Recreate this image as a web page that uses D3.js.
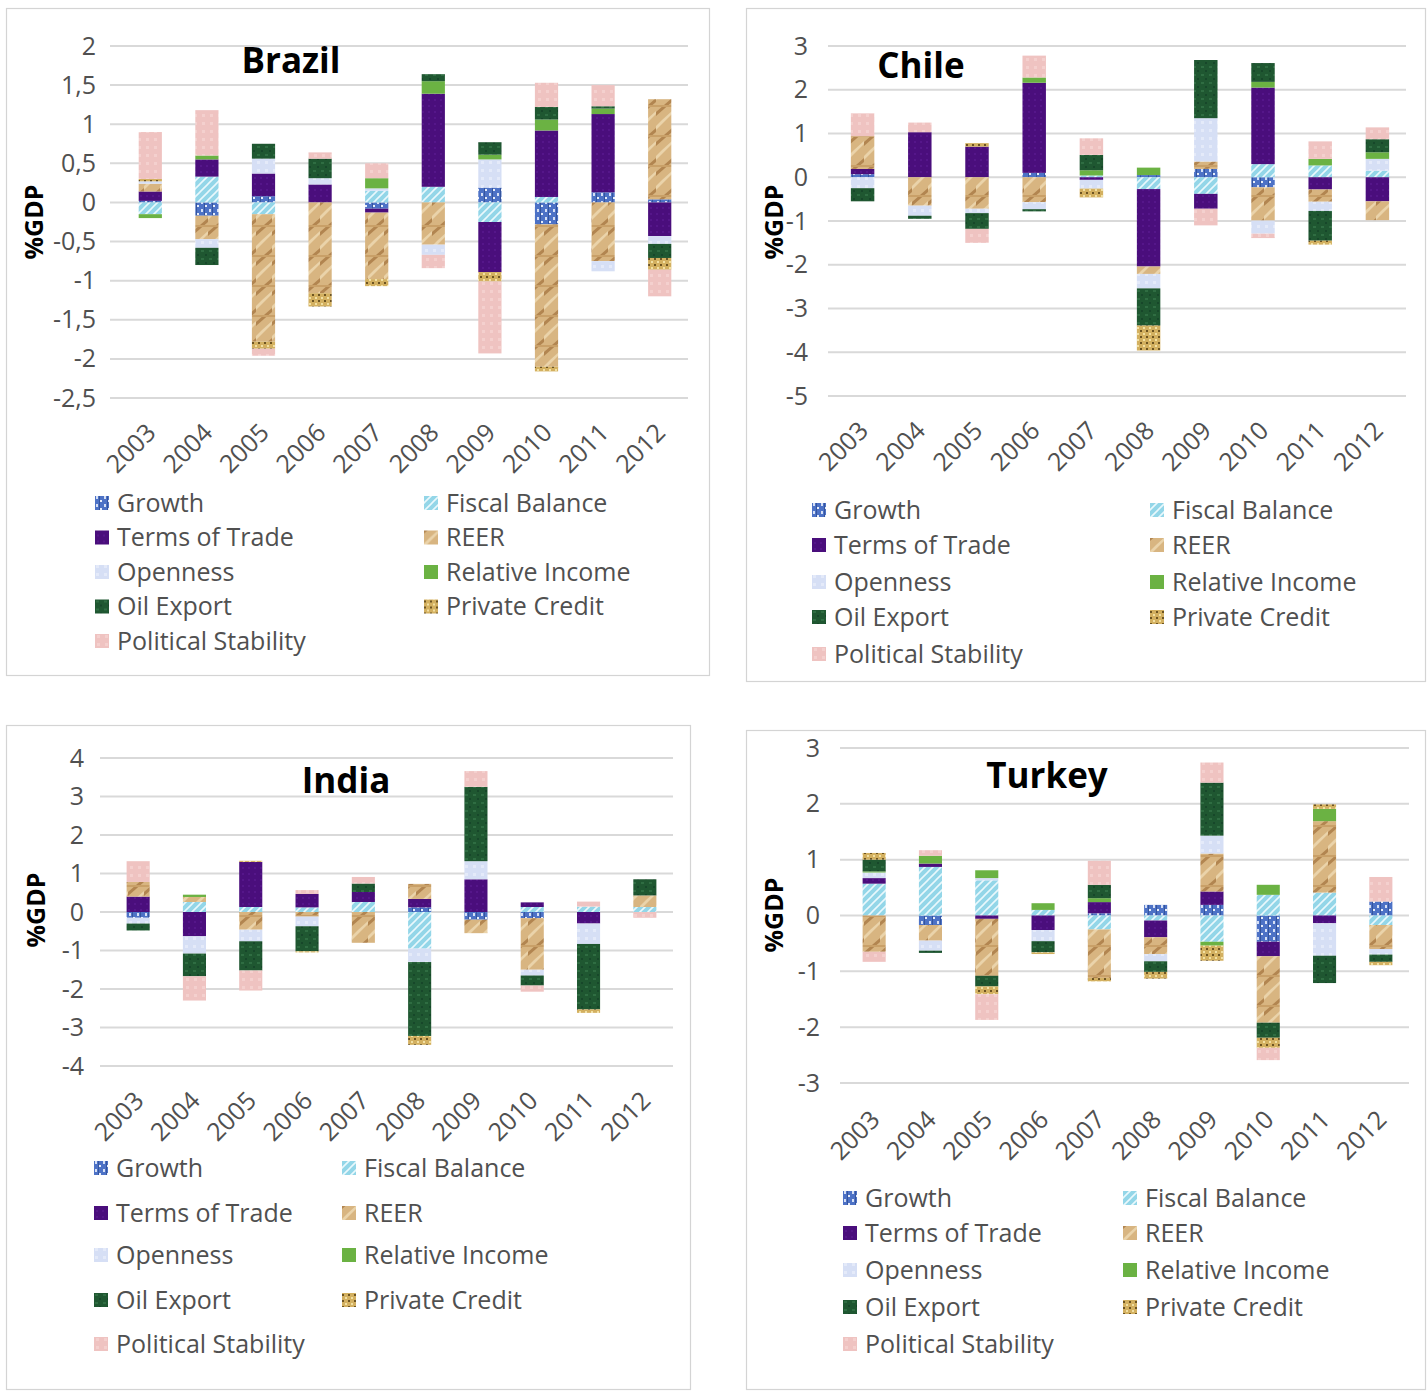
<!DOCTYPE html>
<html>
<head>
<meta charset="utf-8">
<script src="https://cdn.jsdelivr.net/npm/d3@7/dist/d3.min.js"></script>
<style>
  html, body { margin: 0; padding: 0; background: #ffffff; }
  svg { display: block; }
  text { font-family: "Open Sans", "Liberation Sans", sans-serif; }
</style>
</head>
<body>
<svg id="chart" width="1428" height="1394"></svg>
<script>
// ---------------- DATA ----------------
const years = ["2003","2004","2005","2006","2007","2008","2009","2010","2011","2012"];
const seriesNames = ["Growth","Fiscal Balance","Terms of Trade","REER","Openness",
                     "Relative Income","Oil Export","Private Credit","Political Stability"];

// each row = one series (order as seriesNames), each column = one year 2003..2012
const brazilValues = [
  [ 0.02,-0.17, 0.08, 0.00,-0.08, 0.00, 0.19,-0.28, 0.13, 0.04], // Growth
  [-0.15, 0.33,-0.15, 0.00, 0.15, 0.20,-0.25, 0.07, 0.00, 0.00], // Fiscal Balance
  [ 0.12, 0.22, 0.29, 0.23,-0.05, 1.19,-0.64, 0.85, 1.00,-0.43], // Terms of Trade
  [ 0.10,-0.30,-1.63,-1.16,-0.85,-0.54, 0.00,-1.82,-0.75, 1.28], // REER
  [ 0.03,-0.11, 0.19, 0.08, 0.03,-0.13, 0.36, 0.00,-0.13,-0.10], // Openness
  [-0.05, 0.05, 0.00, 0.00, 0.13, 0.16, 0.06, 0.14, 0.07, 0.00], // Relative Income
  [ 0.00,-0.22, 0.19, 0.25, 0.00, 0.09, 0.16, 0.16, 0.03,-0.18], // Oil Export
  [ 0.03, 0.00,-0.09,-0.17,-0.09, 0.00,-0.12,-0.06, 0.00,-0.15], // Private Credit
  [ 0.60, 0.58,-0.09, 0.08, 0.19,-0.17,-0.92, 0.31, 0.27,-0.34]  // Political Stability
];
const chileValues = [
  [ 0.07, 0.00, 0.00, 0.10, 0.00, 0.05, 0.19,-0.23, 0.00, 0.00],
  [ 0.00, 0.00, 0.00, 0.00, 0.04,-0.27,-0.38, 0.30, 0.27, 0.15],
  [ 0.12, 1.03, 0.70, 2.06,-0.06,-1.77,-0.34, 1.75,-0.28,-0.55],
  [ 0.75,-0.65,-0.72,-0.57, 0.00,-0.17, 0.17,-0.76,-0.28,-0.43],
  [-0.25,-0.23,-0.10,-0.16,-0.20,-0.33, 0.99,-0.30,-0.21, 0.27],
  [ 0.00, 0.00, 0.00, 0.12, 0.12, 0.17, 0.00, 0.13, 0.15, 0.15],
  [-0.30,-0.07,-0.36,-0.05, 0.35,-0.85, 1.33, 0.43,-0.68, 0.30],
  [ 0.00, 0.00, 0.08, 0.00,-0.20,-0.57, 0.00, 0.00,-0.09, 0.00],
  [ 0.52, 0.22,-0.32, 0.50, 0.38, 0.00,-0.38,-0.10, 0.40, 0.27]
];
const indiaValues = [
  [-0.15, 0.00, 0.00, 0.00, 0.00, 0.12,-0.20,-0.16, 0.00, 0.00],
  [ 0.00, 0.26, 0.13, 0.12, 0.26,-0.95, 0.00, 0.13, 0.14, 0.13],
  [ 0.40,-0.63, 1.17, 0.35, 0.26, 0.22, 0.85, 0.12,-0.30, 0.00],
  [ 0.38, 0.13,-0.46,-0.12,-0.80, 0.39,-0.35,-1.34, 0.00, 0.30],
  [-0.15,-0.45,-0.30,-0.25, 0.00,-0.35, 0.47,-0.15,-0.53, 0.00],
  [ 0.00, 0.06, 0.00, 0.00, 0.00, 0.00, 0.00, 0.00, 0.00, 0.00],
  [-0.18,-0.59,-0.76,-0.65, 0.22,-1.92, 1.93,-0.26,-1.70, 0.42],
  [ 0.00, 0.00, 0.03,-0.03, 0.00,-0.23, 0.00, 0.00,-0.09, 0.00],
  [ 0.54,-0.63,-0.52, 0.10, 0.17, 0.00, 0.41,-0.16, 0.13,-0.15]
];
const turkeyValues = [
  [ 0.00,-0.17, 0.00, 0.00, 0.04, 0.19, 0.19,-0.47, 0.00, 0.25],
  [ 0.57, 0.87, 0.63, 0.10,-0.25,-0.09,-0.47, 0.37, 0.41,-0.17],
  [ 0.10, 0.06,-0.06,-0.26, 0.20,-0.30, 0.24,-0.26,-0.14, 0.00],
  [-0.65,-0.28,-1.02, 0.00,-0.87,-0.30, 0.68,-1.19, 1.28,-0.43],
  [ 0.10,-0.18, 0.04,-0.20, 0.00,-0.13, 0.32, 0.00,-0.58,-0.10],
  [ 0.02, 0.14, 0.14, 0.12, 0.07, 0.00,-0.07, 0.18, 0.22, 0.00],
  [ 0.21,-0.04,-0.19,-0.20, 0.24,-0.19, 0.95,-0.27,-0.49,-0.13],
  [ 0.12, 0.00,-0.14,-0.03,-0.06,-0.12,-0.27,-0.18, 0.08,-0.06],
  [-0.18, 0.10,-0.46, 0.00, 0.43, 0.00, 0.36,-0.22, 0.00, 0.44]
];

const brazilTicks = [2, 1.5, 1, 0.5, 0, -0.5, -1, -1.5, -2, -2.5];
const chileTicks  = [3, 2, 1, 0, -1, -2, -3, -4, -5];
const indiaTicks  = [4, 3, 2, 1, 0, -1, -2, -3, -4];
const turkeyTicks = [3, 2, 1, 0, -1, -2, -3];

// ---------------- LAYOUT ----------------
const panels = [
  { title: "Brazil", values: brazilValues, ticks: brazilTicks,
    box: [6, 8, 703, 667], xr: [122, 688], yr: [398, 46], gridX0: 110, tickX: 96,
    titlePos: [291, 73], ylabPos: [34, 222], yearOff: 30,
    legX: [95, 424], legRows: [503, 537.5, 572, 606.5, 641] },
  { title: "Chile", values: chileValues, ticks: chileTicks,
    box: [746, 8, 679, 673], xr: [834, 1406], yr: [396, 46], gridX0: 828, tickX: 808,
    titlePos: [921, 78], ylabPos: [774, 222], yearOff: 30,
    legX: [812, 1150], legRows: [510, 545, 582, 617, 654] },
  { title: "India", values: indiaValues, ticks: indiaTicks,
    box: [6, 725, 684, 664], xr: [110, 673], yr: [1066, 758], gridX0: 100, tickX: 84,
    titlePos: [346, 793], ylabPos: [36, 910], yearOff: 30,
    legX: [94, 342], legRows: [1168, 1213, 1255, 1300, 1344] },
  { title: "Turkey", values: turkeyValues, ticks: turkeyTicks,
    box: [746, 730, 679, 659], xr: [846, 1409], yr: [1083, 748], gridX0: 840, tickX: 820,
    titlePos: [1047, 788], ylabPos: [774, 915], yearOff: 32,
    legX: [843, 1123], legRows: [1198, 1233, 1270, 1307, 1344] }
];

const svg = d3.select("#chart");
const defs = svg.append("defs");

// ---------------- TEXTURE PATTERNS ----------------
function pat(id, w, h, base, draw) {
  const p = defs.append("pattern").attr("id", id).attr("patternUnits", "userSpaceOnUse")
    .attr("width", w).attr("height", h);
  p.append("rect").attr("width", w).attr("height", h).attr("fill", base);
  draw(p);
}
pat("p0", 8, 8, "#4d72c6", p => {            // Growth
  p.append("rect").attr("x",1).attr("y",1).attr("width",2).attr("height",3).attr("fill","#d6e0f5");
  p.append("rect").attr("x",5).attr("y",5).attr("width",2).attr("height",2).attr("fill","#e8eefa");
  p.append("rect").attr("x",4).attr("y",0).attr("width",1).attr("height",8).attr("fill","#35559e");
});
pat("p1", 8, 8, "#93d6e8", p => {            // Fiscal Balance
  p.append("path").attr("d","M0,8 L8,0 M-2,2 L2,-2 M6,10 L10,6").attr("stroke","#e9f8fc").attr("stroke-width",1.6);
});
pat("p2", 6, 6, "#4a0e7c", p => {            // Terms of Trade
  p.append("rect").attr("x",2).attr("y",3).attr("width",2).attr("height",2).attr("fill","#55168a");
});
pat("p3", 16, 30, "#d8b581", p => {          // REER
  p.append("path").attr("d","M0,22 L16,8 L16,12 L0,26 Z").attr("fill","#b28550");
  p.append("path").attr("d","M0,6 L6,0 L10,0 L0,10 Z").attr("fill","#ead3aa");
  p.append("path").attr("d","M6,30 L16,21 L16,24 L10,30 Z").attr("fill","#ead3aa");
  p.append("rect").attr("x",0).attr("y",15).attr("width",16).attr("height",2).attr("fill","#c9a068");
});
pat("p4", 8, 8, "#d6dff5", p => {            // Openness
  p.append("rect").attr("x",1).attr("y",1).attr("width",3).attr("height",3).attr("fill","#e4eaf9");
});
pat("p5", 6, 6, "#6bb243", p => {});         // Relative Income
pat("p6", 8, 8, "#1f5731", p => {            // Oil Export
  p.append("rect").attr("x",1).attr("y",2).attr("width",3).attr("height",2).attr("fill","#2f6d42");
  p.append("rect").attr("x",5).attr("y",6).attr("width",2).attr("height",2).attr("fill","#17472a");
});
pat("p7", 6, 6, "#d3b060", p => {            // Private Credit
  p.append("rect").attr("x",0).attr("y",0).attr("width",2).attr("height",2).attr("fill","#6d5422");
  p.append("rect").attr("x",3).attr("y",3).attr("width",2).attr("height",2).attr("fill","#f2e0a2");
});
pat("p8", 8, 8, "#efc3c1", p => {            // Political Stability
  p.append("rect").attr("x",2).attr("y",2).attr("width",3).attr("height",3).attr("fill","#f4d0ce");
});
const fills = seriesNames.map((d, i) => `url(#p${i})`);

const fmt = v => String(v).replace(".", ",");
const textColor = "#505050";

// ---------------- DRAW PANELS ----------------
panels.forEach(P => {
  const g = svg.append("g");
  g.append("rect").attr("x", P.box[0] + 0.5).attr("y", P.box[1] + 0.5)
    .attr("width", P.box[2]).attr("height", P.box[3])
    .attr("fill", "#fff").attr("stroke", "#d4d4d4").attr("stroke-width", 1.2);

  const x = d3.scaleBand().domain(years).range(P.xr).paddingInner(0.59).paddingOuter(0.295);
  const y = d3.scaleLinear().domain([d3.min(P.ticks), d3.max(P.ticks)]).range(P.yr);

  // gridlines
  g.selectAll("line.grid").data(P.ticks).join("line")
    .attr("x1", P.gridX0).attr("x2", P.xr[1])
    .attr("y1", d => y(d)).attr("y2", d => y(d))
    .attr("stroke", "#d9d9d9").attr("stroke-width", 2);

  // y axis labels via d3 axis
  const ax = g.append("g").attr("transform", `translate(${P.tickX},0)`)
    .call(d3.axisLeft(y).tickValues(P.ticks).tickFormat(fmt).tickSize(0).tickPadding(0));
  ax.select(".domain").remove();
  ax.selectAll("text").attr("fill", textColor).style("font-size", "25px")
    .style("font-family", "'Open Sans', sans-serif");

  // stacked bars
  const rows = years.map((yr, j) => {
    const o = { year: yr };
    seriesNames.forEach((s, i) => o[s] = P.values[i][j]);
    return o;
  });
  const stack = d3.stack().keys(seriesNames).offset(d3.stackOffsetDiverging)(rows);
  g.selectAll("g.series").data(stack).join("g")
    .attr("fill", (d, i) => fills[i])
    .selectAll("rect").data(d => d).join("rect")
    .attr("x", d => x(d.data.year))
    .attr("width", x.bandwidth())
    .attr("y", d => y(Math.max(d[0], d[1])))
    .attr("height", d => Math.abs(y(d[0]) - y(d[1])));

  // year labels
  g.selectAll("text.year").data(years).join("text")
    .attr("transform", d => `translate(${x(d) + x.bandwidth() / 2 + 1},${P.yr[0] + P.yearOff}) rotate(-45)`)
    .attr("text-anchor", "end").attr("dy", "0.35em")
    .attr("fill", textColor).style("font-size", "25px").text(d => d);

  // title
  g.append("text").attr("x", P.titlePos[0]).attr("y", P.titlePos[1])
    .attr("text-anchor", "middle").attr("fill", "#000")
    .style("font-size", "35px").style("font-weight", "bold").text(P.title);

  // y label
  g.append("text").attr("transform", `translate(${P.ylabPos[0]},${P.ylabPos[1]}) rotate(-90)`)
    .attr("text-anchor", "middle").attr("dy", "0.35em").attr("fill", "#000")
    .style("font-size", "25px").style("font-weight", "bold").text("%GDP");

  // legend
  const leg = g.selectAll("g.leg").data(seriesNames).join("g")
    .attr("transform", (d, i) => `translate(${P.legX[i % 2]},${P.legRows[Math.floor(i / 2)]})`);
  leg.append("rect").attr("x", 0).attr("y", -7).attr("width", 14).attr("height", 14)
    .attr("fill", (d, i) => fills[i]);
  leg.append("text").attr("x", 22).attr("dy", "0.35em").attr("fill", textColor)
    .style("font-size", "25px").text(d => d);
});
</script>
</body>
</html>
